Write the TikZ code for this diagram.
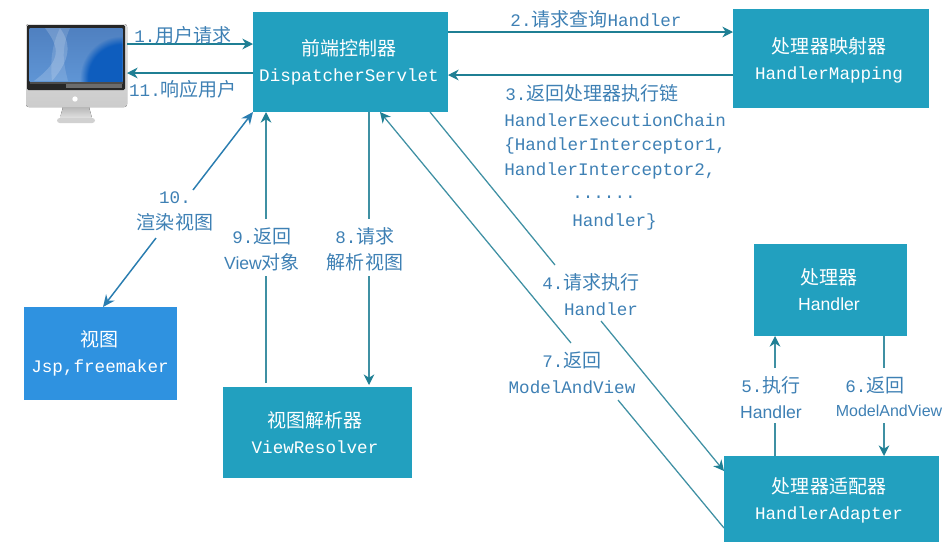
\documentclass[tikz,border=0pt]{standalone}
\usepackage{fontspec}
\usetikzlibrary{arrows.meta,fadings}
\setmainfont{Liberation Sans}
\setmonofont{Liberation Mono}
\newfontfamily\cjk{Noto Sans CJK SC}[Scale=1.08]
\definecolor{boxteal}{HTML}{22A0BF}
\definecolor{boxblue}{HTML}{2F92E0}
\definecolor{linkteal}{HTML}{1F7F94}
\definecolor{softteal}{HTML}{3F90A3}
\definecolor{linkblue}{HTML}{2A7DB0}
\definecolor{labelblue}{HTML}{3E80B4}
\definecolor{screentop}{HTML}{4F80C0}
\definecolor{screenbot}{HTML}{5F95D5}
\definecolor{screendeep}{HTML}{0E5DBE}
\tikzset{
  x=0.75pt,y=-0.75pt,
  procbox/.style={draw=none,fill=boxteal,minimum width=#1,anchor=north west,inner sep=0pt},
  boxtext/.style={text=white,align=center,inner sep=0pt,font=\fontsize{13.2}{19.5}\selectfont},
  flowlabel/.style={text=labelblue,align=center,inner sep=2pt,font=\fontsize{13.2}{19.5}\selectfont},
  chainlabel/.style={text=labelblue,align=left,inner sep=0pt,anchor=west,font=\fontsize{13.2}{19}\selectfont},
  link/.style={draw=linkteal,line width=0.95pt,-{Stealth[length=8pt,width=8pt]}},
  plain link/.style={draw=softteal,line width=0.95pt},
  soft link/.style={draw=softteal,line width=0.95pt,-{Stealth[length=8pt,width=8pt,color=linkteal]}},
  half bilink/.style={draw=linkblue,line width=1.1pt,-{Stealth[length=9pt,width=8pt]}},
}
\begin{document}
\begin{tikzpicture}
\useasboundingbox (0,0) rectangle (943,547);
% monitor
\fill[rounded corners=2pt,top color=white!88!black,bottom color=white!80!black] (26,24) rectangle (127,107);
\fill[top color=white!72!black,bottom color=white!88!black] (63,107) -- (89,107) -- (92,118) -- (60,118) -- cycle;
\fill[rounded corners=2pt,white!82!black] (57,118) rectangle (95,123);
\fill[rounded corners=1pt,black!85] (27,25) rectangle (125,90);
\begin{scope}
\clip (29.5,28) rectangle (122.5,81);
\fill[top color=screentop,bottom color=screenbot] (29.5,28) rectangle (122.5,81);
\fill[screendeep,path fading=circle with fuzzy edge 20 percent] (122,78) circle (42);
\fill[white,opacity=0.18] (45,28) .. controls (60,48) and (62,60) .. (34,81) -- (52,81) .. controls (70,60) and (72,45) .. (60,28) -- cycle;
\fill[white,opacity=0.14] (70,28) .. controls (60,50) and (64,65) .. (68,81) -- (52,81) .. controls (50,60) and (52,45) .. (60,28) -- cycle;
\end{scope}
\fill[gray!85!black] (66,82) rectangle (122,88);
\fill[gray!60!black] (29.5,81.5) rectangle (122.5,84);
\fill[white] (75,99) circle (2pt);
% boxes
\node[procbox=195*0.75pt,minimum height=75pt] (front) at (253,12) {};
\node[procbox=196*0.75pt,minimum height=74.25pt] (mapping) at (733,9) {};
\node[procbox=153*0.75pt,minimum height=69pt] (handler) at (754,244) {};
\node[procbox=215*0.75pt,minimum height=64.5pt] (adapter) at (724,456) {};
\node[procbox=189*0.75pt,minimum height=68.25pt] (resolver) at (223,387) {};
\node[procbox=153*0.75pt,minimum height=69.75pt,fill=boxblue] (view) at (24,307) {};
% ends
\coordinate (pc1) at (127,44);
\coordinate (pc2) at (127,73);
\coordinate (f1) at (253,44);
\coordinate (f2) at (253,73);
\coordinate (f3) at (448,32);
\coordinate (f4) at (448,75);
\coordinate (m3) at (733,32);
\coordinate (m4) at (733,75);
\coordinate (f9) at (266,112);
\coordinate (r9) at (266,383);
\coordinate (g9a) at (266,219);
\coordinate (g9b) at (266,276);
\coordinate (f8) at (369,112);
\coordinate (r8) at (369,385);
\coordinate (g8a) at (369,219);
\coordinate (g8b) at (369,276);
\coordinate (f4s) at (430,112);
\coordinate (a4) at (724,471);
\coordinate (g4a) at (555,265);
\coordinate (g4b) at (601,321);
\coordinate (f7) at (380,112);
\coordinate (a7) at (724,528);
\coordinate (g7a) at (571,343);
\coordinate (g7b) at (618,400);
\coordinate (a5) at (775,456);
\coordinate (h5) at (775,336);
\coordinate (g5a) at (775,368);
\coordinate (g5b) at (775,423);
\coordinate (h6) at (884,336);
\coordinate (a6) at (884,456);
\coordinate (g6a) at (884,368);
\coordinate (g6b) at (884,423);
\coordinate (f10) at (253,112);
\coordinate (v10) at (103,307);
\coordinate (g10a) at (193,190);
\coordinate (g10b) at (156,238);
% connectors
\draw[link] (pc1) -- (f1);
\draw[link] (f2) -- (pc2);
\draw[link] (f3) -- (m3);
\draw[link] (m4) -- (f4);
\draw[plain link] (r9) -- (g9b);
\draw[soft link] (g9a) -- (f9);
\draw[plain link] (f8) -- (g8a);
\draw[soft link] (g8b) -- (r8);
\draw[plain link] (f4s) -- (g4a);
\draw[soft link] (g4b) -- (a4);
\draw[plain link] (a7) -- (g7b);
\draw[soft link] (g7a) -- (f7);
\draw[plain link] (a5) -- (g5b);
\draw[soft link] (g5a) -- (h5);
\draw[plain link] (h6) -- (g6a);
\draw[soft link] (g6b) -- (a6);
\draw[half bilink] (g10a) -- (f10);
\draw[half bilink] (g10b) -- (v10);
% box text
\node[boxtext] (tfront) at (349,62.5) {{\cjk 前端控制器}\\\ttfamily DispatcherServlet};
\node[boxtext] (tmap) at (829,60) {{\cjk 处理器映射器}\\\ttfamily HandlerMapping};
\node[boxtext] (thand) at (829,290) {{\cjk 处理器}\\Handler};
\node[boxtext] (tadapt) at (829,500) {{\cjk 处理器适配器}\\\ttfamily HandlerAdapter};
\node[boxtext] (tres) at (315,432.5) {{\cjk 视图解析器}\\\ttfamily ViewResolver};
\node[boxtext] (tview) at (100,353) {{\cjk 视图}\\\ttfamily Jsp,freemaker};
% labels
\node[flowlabel] (l1) at (183,35) {\ttfamily 1.{\cjk 用户请求}};
\node[flowlabel] (l11) at (183,89) {\ttfamily 11.{\cjk 响应用户}};
\node[flowlabel] (l2) at (596,19) {\ttfamily 2.{\cjk 请求查询}Handler};
\node[chainlabel] (l3a) at (505,93) {\ttfamily 3.{\cjk 返回处理器执行链}};
\node[chainlabel] (l3b) at (504,120) {\ttfamily HandlerExecutionChain};
\node[chainlabel] (l3c) at (504,146) {\ttfamily \{HandlerInterceptor1,};
\node[chainlabel] (l3d) at (504,171) {\ttfamily HandlerInterceptor2,};
\node[chainlabel] (l3e) at (572,197) {\ttfamily ......};
\node[chainlabel] (l3f) at (572,222) {\ttfamily Handler\}};
\node[flowlabel] (l10) at (175,211) {\ttfamily 10.\\\cjk 渲染视图};
\node[flowlabel] (l9) at (262,249) {\ttfamily 9.{\cjk 返回}\\View{\cjk 对象}};
\node[flowlabel] (l8) at (365,249) {\ttfamily 8.{\cjk 请求}\\\cjk 解析视图};
\node[flowlabel] (l4) at (591,282) {\ttfamily 4.{\cjk 请求执行}};
\node[flowlabel] (l4b) at (601,309) {\ttfamily Handler};
\node[flowlabel] (l7) at (572,373) {\ttfamily 7.{\cjk 返回}\\\ttfamily ModelAndView};
\node[flowlabel] (l5) at (771,398) {\ttfamily 5.{\cjk 执行}\\\rmfamily Handler};
\node[flowlabel] (l6) at (875,385) {\ttfamily 6.{\cjk 返回}};
\node[flowlabel,anchor=east,inner sep=0pt,font=\fontsize{12}{19.5}\selectfont] (l6b) at (942.5,411) {ModelAndView};
\end{tikzpicture}
\end{document}
